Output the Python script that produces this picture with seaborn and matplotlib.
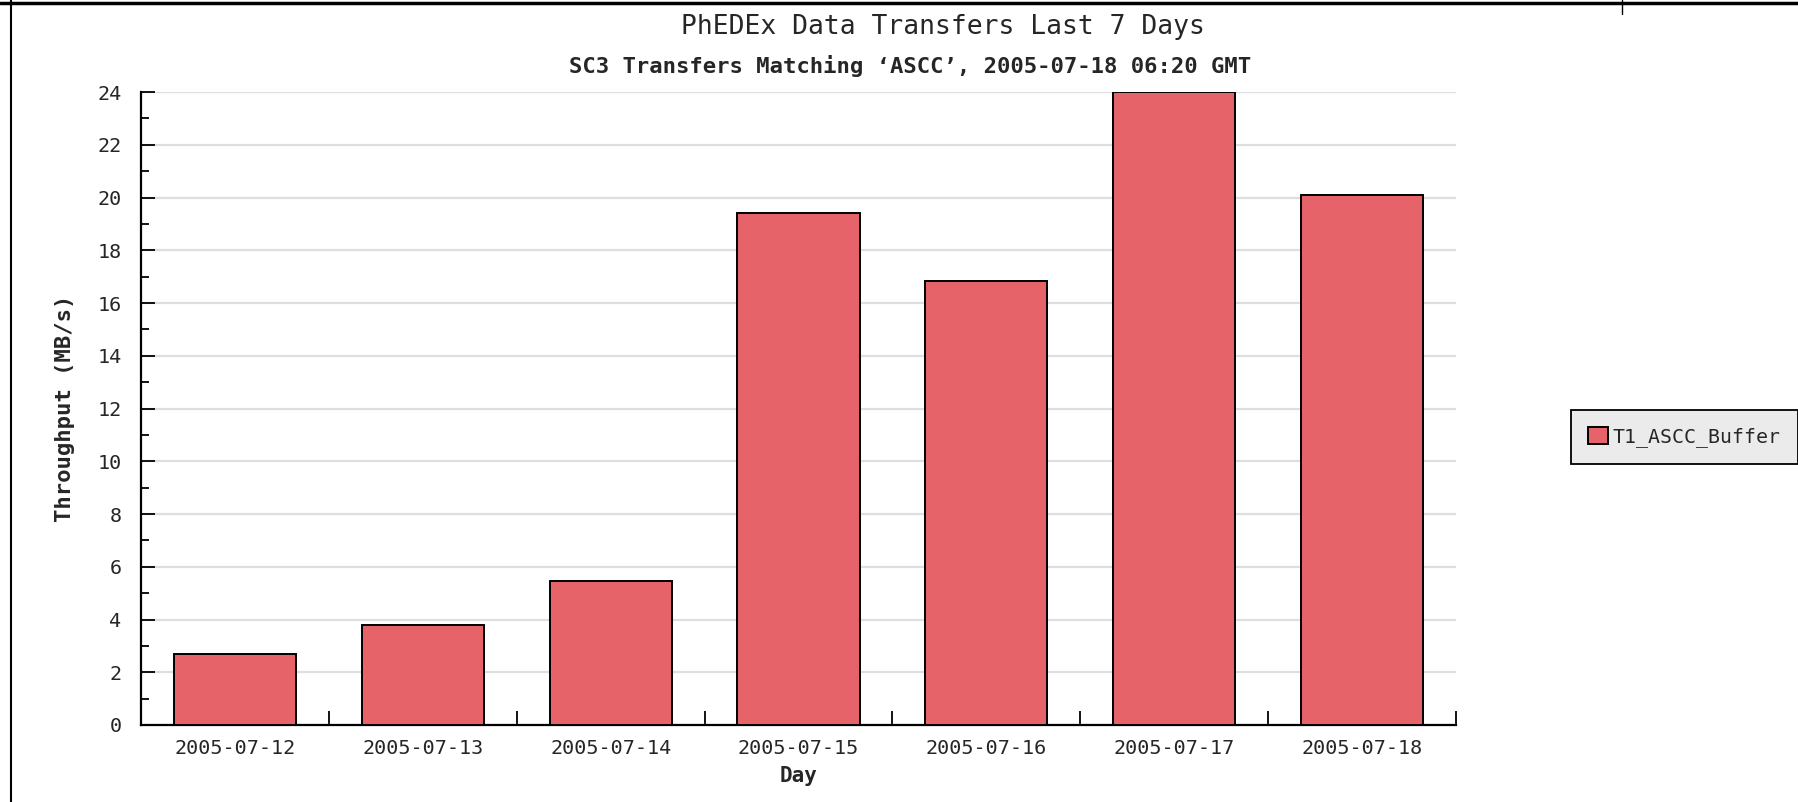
import numpy as np
import pandas as pd
import matplotlib
matplotlib.use("Agg")
import matplotlib.pyplot as plt
import matplotlib.ticker as mtick
from matplotlib.lines import Line2D
import seaborn as sns

# data
days = ["2005-07-12", "2005-07-13", "2005-07-14", "2005-07-15",
        "2005-07-16", "2005-07-17", "2005-07-18"]
throughput = [2.70, 3.78, 5.45, 19.42, 16.82, 24.0, 20.08]
series_name = "T1_ASCC_Buffer"

bar_color = "#e6636a"
mono = "DejaVu Sans Mono"

sns.set_style("white")
plt.rcParams["font.family"] = [mono, "DejaVu Sans"]

W, H = 1798, 802
fig = plt.figure(figsize=(W / 100, H / 100), dpi=100)
ax = fig.add_axes([141 / W, 1 - 725 / H, (1456 - 141) / W, (725 - 92) / H])

df = pd.DataFrame({"Day": days, "Throughput": throughput})
sns.barplot(data=df, x="Day", y="Throughput", color=bar_color, saturation=1,
            width=0.65, edgecolor="black", linewidth=1.4, label=series_name,
            ax=ax, zorder=3)

ax.set_xlim(-0.5, len(days) - 0.5)
ax.set_ylim(0, 24)

# y ticks: major every 2, minor every 1, pointing inward
ax.yaxis.set_major_locator(mtick.MultipleLocator(2))
ax.yaxis.set_minor_locator(mtick.MultipleLocator(1))
ax.tick_params(axis="y", which="major", direction="in", length=10, width=1.3,
               color="black", labelsize=14.5, pad=14, left=True)
ax.tick_params(axis="y", which="minor", direction="in", length=6, width=1.3,
               color="black", left=True)

# x ticks: labels at centres, tick marks at category boundaries
ax.set_xticks(np.arange(len(days)))
ax.set_xticklabels(days)
ax.set_xticks(np.arange(len(days)) + 0.5, minor=True)
ax.tick_params(axis="x", which="major", length=0, labelsize=14.5, pad=10)
ax.tick_params(axis="x", which="minor", direction="in", length=10, width=1.3,
               color="black", bottom=True)

ax.grid(axis="y", color="#dedede", linewidth=1.6, zorder=0)
ax.grid(axis="x", visible=False)
ax.set_axisbelow(True)

for s in ["top", "right"]:
    ax.spines[s].set_visible(False)
for s in ["left", "bottom"]:
    ax.spines[s].set_color("black")
    ax.spines[s].set_linewidth(1.6)

ax.set_xlabel("Day", fontsize=15, fontweight="bold", labelpad=6)
ax.set_ylabel("Throughput (MB/s)", fontsize=16, fontweight="bold", labelpad=16)

fig.text(943 / W, 1 - 27 / H, "PhEDEx Data Transfers Last 7 Days",
         ha="center", va="center", fontsize=19)
fig.text(910 / W, 1 - 66 / H,
         "SC3 Transfers Matching \u2018ASCC\u2019, 2005-07-18 06:20 GMT",
         ha="center", va="center", fontsize=16, fontweight="bold")

leg = ax.legend(loc="center left", bbox_to_anchor=(1571 / W, 1 - 437 / H),
                bbox_transform=fig.transFigure, frameon=True, fancybox=False,
                facecolor="#ebebeb", edgecolor="black", framealpha=1,
                fontsize=14.3, handlelength=1.0, handleheight=1.0,
                handletextpad=0.25, borderpad=0.85, borderaxespad=0)
leg.get_frame().set_linewidth(1.3)

# page border pieces visible in the reference crop
fig.add_artist(Line2D([0, 1], [1 - 3 / H, 1 - 3 / H], color="black",
                      linewidth=2.5, transform=fig.transFigure))
fig.add_artist(Line2D([11 / W, 11 / W], [0, 1], color="black",
                      linewidth=1.5, transform=fig.transFigure))
fig.add_artist(Line2D([1622 / W, 1622 / W], [1, 1 - 14 / H], color="black",
                      linewidth=1, transform=fig.transFigure))

fig.savefig("out.png", dpi=100)
